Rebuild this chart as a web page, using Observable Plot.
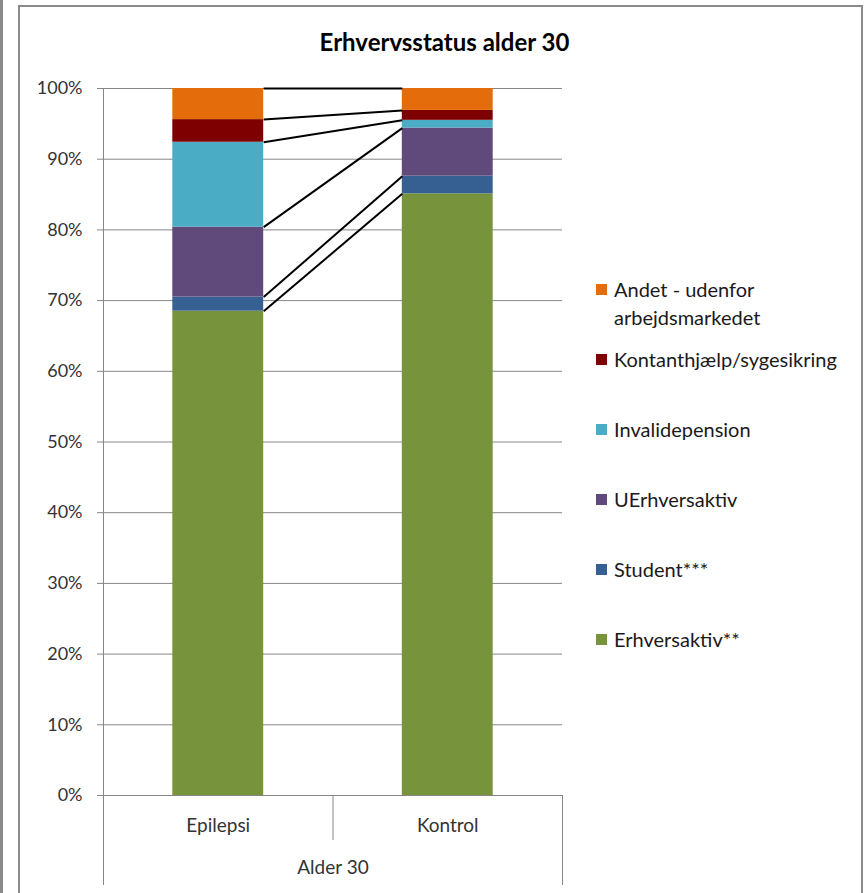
<!DOCTYPE html>
<html>
<head>
<meta charset="utf-8">
<script src="https://cdn.jsdelivr.net/npm/d3@7"></script>
<script src="https://cdn.jsdelivr.net/npm/@observablehq/plot@0.6"></script>
<style>
  html, body { margin: 0; padding: 0; background: #fff; }
  #wrap { position: relative; width: 866px; height: 893px; overflow: hidden; font-family: Lato, "Open Sans", sans-serif; }
  #wrap svg { position: absolute; left: 0; top: 0; }
  .edge { position: absolute; left: 0; top: 0; width: 3px; height: 893px; background: #8a8a8a; }
  .frame { position: absolute; left: 18px; top: 5px; width: 845px; height: 900px; border: 2px solid #8a8a8a; box-sizing: border-box; }
  .title { position: absolute; left: 18px; width: 853px; top: 27px; text-align: center; font-weight: bold; font-size: 24px; color: #000; }
  .legend { position: absolute; left: 596px; top: 275px; font-size: 20px; color: #1a1a1a; }
  .item { position: relative; height: 70px; }
  .sw { position: absolute; left: 0; top: 9px; width: 11px; height: 11px; }
  .lab { position: absolute; left: 18px; top: 0; line-height: 28px; width: 250px; }
</style>
</head>
<body>
<div id="wrap">
  <div class="edge"></div>
  <div class="frame"></div>
</div>
<script>
// Employment status at age 30, share of each group (%)
const groups = ["Epilepsi", "Kontrol"];
const series = [
  "Erhversaktiv**",
  "Student***",
  "UErhversaktiv",
  "Invalidepension",
  "Kontanthjælp/sygesikring",
  "Andet - udenfor arbejdsmarkedet"
];
const epilepsi = [68.5, 2.0, 9.9, 12.0, 3.2, 4.4];
const kontrol  = [85.1, 2.5, 6.8, 1.1, 1.4, 3.1];
const colors = ["#77933C", "#376092", "#604A7B", "#4BACC6", "#7F0000", "#E46C0A"];
const yTicks = [0, 10, 20, 30, 40, 50, 60, 70, 80, 90, 100];
const chartTitle = "Erhvervsstatus alder 30";
const axisTitle = "Alder 30";

// stacked segments: each group sits at its index on a linear x scale
const halfWidth = 0.198;
const values = [epilepsi, kontrol];
const rows = [];
values.forEach((vals, gi) => {
  const tops = d3.cumsum(vals);
  vals.forEach((v, si) => {
    rows.push({group: groups[gi], gi, series: series[si], y1: tops[si] - v, y2: tops[si]});
  });
});

// connector lines join the top of each segment across the two bars
const ctops = values.map(v => d3.cumsum(v));
const links = series.map((s, si) => ({series: s, a: ctops[0][si], b: ctops[1][si]}));

const grid = "#868686";
const plot = Plot.plot({
  width: 866,
  height: 893,
  marginLeft: 103,
  marginRight: 304,
  marginTop: 88,
  marginBottom: 98,
  style: {fontFamily: "Lato, 'Open Sans', sans-serif", background: "transparent", overflow: "visible"},
  x: {domain: [-0.5, 1.5], axis: null},
  y: {domain: [0, 100], axis: null},
  color: {domain: series, range: colors},
  marks: [
    Plot.gridY(yTicks, {stroke: grid, strokeOpacity: 1, strokeWidth: 1}),
    Plot.ruleX([-0.5], {y1: 0, y2: 100, stroke: grid, strokeWidth: 1}),
    Plot.axisY({ticks: yTicks, tickFormat: d => d + "%", tickSize: 6, tickPadding: 15, fontSize: 18, stroke: grid, color: "#333", label: null}),
    Plot.axisX({ticks: [-0.5, 1.5], tickSize: 90, tickFormat: () => "", stroke: grid, label: null}),
    Plot.axisX({ticks: [0.5], tickSize: 45, tickFormat: () => "", stroke: grid, label: null}),
    Plot.axisX({ticks: [0, 1], tickSize: 0, tickPadding: 23, tickFormat: i => groups[i], fontSize: 19, color: "#333", label: null}),
    Plot.text([axisTitle], {frameAnchor: "bottom", dy: 78, fontSize: 19, fill: "#333"}),
    Plot.rect(rows, {x1: d => d.gi - halfWidth, x2: d => d.gi + halfWidth, y1: "y1", y2: "y2", fill: "series"}),
    Plot.link(links, {x1: 0 + halfWidth, x2: 1 - halfWidth, y1: "a", y2: "b", stroke: "#000", strokeWidth: 2})
  ]
});

const wrap = document.getElementById("wrap");
wrap.insertBefore(plot, wrap.firstChild);

const title = document.createElement("div");
title.className = "title";
title.textContent = chartTitle;
wrap.appendChild(title);

// legend lists the series top-down, matching the stacking order
const legend = document.createElement("div");
legend.className = "legend";
series.map((s, i) => [s, colors[i]]).reverse().forEach(([s, c]) => {
  const item = document.createElement("div");
  item.className = "item";
  const sw = document.createElement("div");
  sw.className = "sw";
  sw.style.background = c;
  const lab = document.createElement("div");
  lab.className = "lab";
  lab.textContent = s;
  item.appendChild(sw);
  item.appendChild(lab);
  legend.appendChild(item);
});
wrap.appendChild(legend);
</script>
</body>
</html>
